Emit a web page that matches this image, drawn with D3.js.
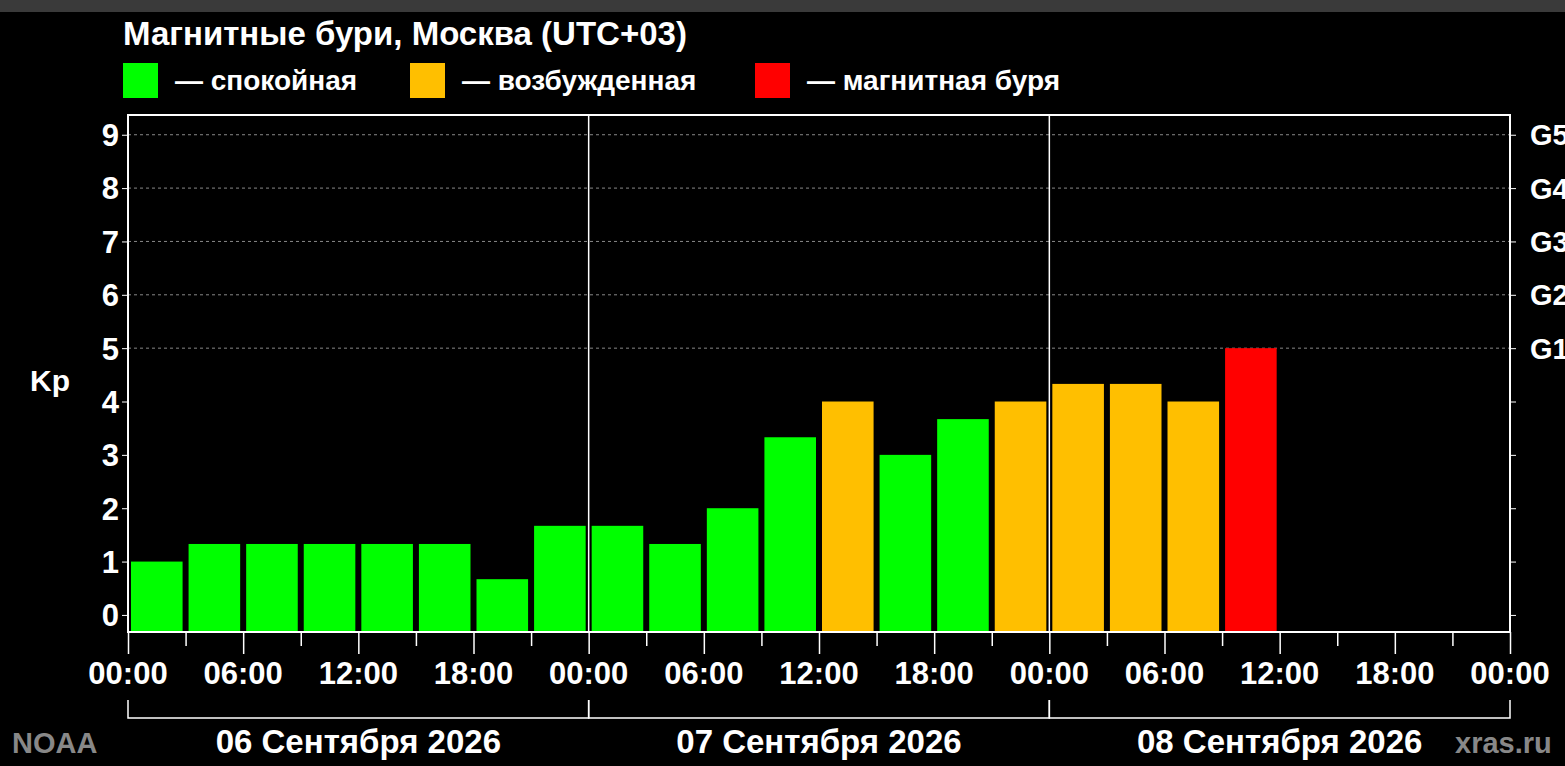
<!DOCTYPE html>
<html><head><meta charset="utf-8">
<script src="https://cdn.jsdelivr.net/npm/d3@7"></script>
<style>body{margin:0;background:#000;}text{font-family:"Liberation Sans",Arial,sans-serif;font-weight:bold;}</style>
</head><body><svg id="svg0"></svg>
<script>
let days = ['06 Сентября 2026', '07 Сентября 2026', '08 Сентября 2026'];
let kpValues = [1, 1.33, 1.33, 1.33, 1.33, 1.33, 0.67, 1.67,
                1.67, 1.33, 2, 3.33, 4, 3, 3.67, 4,
                4.33, 4.33, 4, 5];
let hourLabels = ['00:00', '06:00', '12:00', '18:00'];
let gLabels = ['G1', 'G2', 'G3', 'G4', 'G5'];
let legendItems = [['#00ff00', '— спокойная'], ['#ffbf00', '— возбужденная'], ['#ff0000', '— магнитная буря']];

let width = 1565, height = 766;
let margin = {left: 128, right: 55, top: 115, bottom: 134};
let svg = d3.select('#svg0').attr('width', width).attr('height', height);
svg.append('rect').attr('width', width).attr('height', height).style('fill', '#000');
svg.append('rect').attr('width', width).attr('height', 12).style('fill', '#3a3a3a');

let x = d3.scaleLinear().domain([0, 72]).range([margin.left, width - margin.right]);
let y = d3.scaleLinear().domain([-0.32, 9.37]).range([height - margin.bottom, margin.top]);
let color = v => v >= 5 ? '#ff0000' : (v >= 4 ? '#ffbf00' : '#00ff00');

// title + legend
svg.append('text').attr('x', 123).attr('y', 45).text('Магнитные бури, Москва (UTC+03)')
    .style('fill', '#fff').style('font-size', '33px');
let lx = [123, 410, 755];
legendItems.forEach((d, i) => {
    svg.append('rect').attr('x', lx[i]).attr('y', 63).attr('width', 35).attr('height', 35).style('fill', d[0]);
    svg.append('text').attr('x', lx[i] + 52).attr('y', 90).text(d[1]).style('fill', '#fff').style('font-size', '28px');
});

// gridlines
let grid = [5, 6, 7, 8, 9];
svg.selectAll('.grid').data(grid).enter().append('line')
    .attr('x1', x(0)).attr('x2', x(72)).attr('y1', d => y(d)).attr('y2', d => y(d))
    .style('stroke', '#888').style('stroke-dasharray', '3,3').style('stroke-width', 1);

// bars
svg.selectAll('.bar').data(kpValues).enter().append('rect')
    .attr('x', (d, i) => x(i * 3) + 3).attr('width', x(3) - x(0) - 6)
    .attr('y', d => y(d)).attr('height', d => y(-0.32) - y(d))
    .style('fill', d => color(d));

// frame & day separators
svg.append('rect').attr('x', x(0)).attr('y', y(9.37)).attr('width', x(72) - x(0)).attr('height', y(-0.32) - y(9.37))
    .style('fill', 'none').style('stroke', '#fff').style('stroke-width', 2);
[24, 48].forEach(h => svg.append('line').attr('x1', x(h)).attr('x2', x(h)).attr('y1', y(9.37)).attr('y2', y(-0.32))
    .style('stroke', '#fff').style('stroke-width', 1.5));

// left axis
let ax = svg.append('g').attr('transform', 'translate(' + x(0) + ',0)')
    .call(d3.axisLeft(y).tickValues(d3.range(0, 10)).tickSize(6).tickSizeOuter(0));
ax.select('.domain').remove();
ax.selectAll('line').style('stroke', '#fff');
ax.selectAll('text').style('fill', '#fff').style('font-size', '31px').attr('dy', '0.35em');
// right axis
let ar = svg.append('g').attr('transform', 'translate(' + x(72) + ',0)')
    .call(d3.axisRight(y).tickValues(d3.range(0, 10)).tickSize(6).tickFormat(d => d >= 5 ? gLabels[d - 5] : ''));
ar.select('.domain').remove();
ar.selectAll('line').style('stroke', '#fff');
ar.selectAll('text').style('fill', '#fff').style('font-size', '29px').attr('x', 20).attr('dy', '0.35em');

svg.append('text').attr('x', 30).attr('y', 391).text('Kp').style('fill', '#fff').style('font-size', '30px');

// bottom axis
let ab = svg.append('g').attr('transform', 'translate(0,' + y(-0.32) + ')')
    .call(d3.axisBottom(x).tickValues(d3.range(0, 73, 3)).tickSize(0).tickFormat(''));
ab.select('.domain').remove();
ab.selectAll('.tick line').attr('y2', d => d % 6 === 0 ? 22 : 14).style('stroke', '#fff').style('stroke-width', 1.5);
svg.selectAll('.hl').data(d3.range(0, 73, 6)).enter().append('text')
    .attr('x', d => x(d)).attr('y', 684).attr('text-anchor', 'middle')
    .text(d => hourLabels[(d % 24) / 6]).style('fill', '#fff').style('font-size', '31px');

// day brackets
days.forEach((d, i) => {
    let x0 = x(i * 24), x1 = x(i * 24 + 24);
    svg.append('path').attr('d', 'M' + x0 + ',700V718H' + x1 + 'V700').style('fill', 'none').style('stroke', '#fff').style('stroke-width', 1.5);
    svg.append('text').attr('x', (x0 + x1) / 2).attr('y', 753).attr('text-anchor', 'middle').text(d)
        .style('fill', '#fff').style('font-size', '33px');
});
svg.append('text').attr('x', 12).attr('y', 753).text('NOAA').style('fill', '#888').style('font-size', '29px');
svg.append('text').attr('x', 1455).attr('y', 753).text('xras.ru').style('fill', '#888').style('font-size', '29px');
</script></body></html>
